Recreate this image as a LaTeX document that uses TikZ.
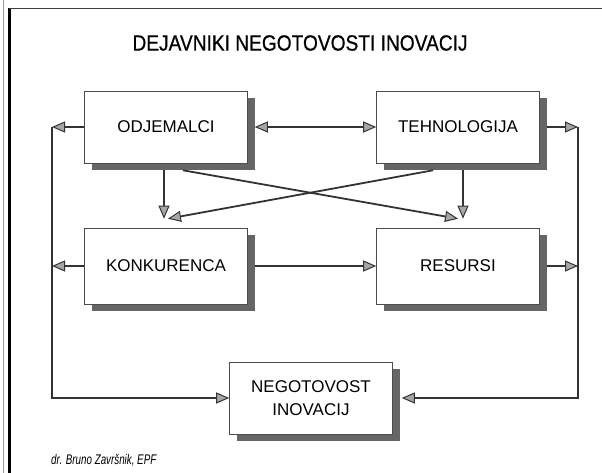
\documentclass[tikz,border=0pt]{standalone}
\usepackage{fontspec}
\setmainfont{Liberation Sans}
\newfontfamily\condfont{Liberation Sans}[FakeStretch=0.87,FakeBold=0.6]
\newfontfamily\notefont{Liberation Sans}[FakeStretch=0.7]
\usepackage{tikz}
\usetikzlibrary{arrows.meta,shadows}
\tikzstyle{block} = [rectangle, draw=black!70, line width=0.6pt, fill=white, minimum width=163pt, minimum height=72pt, font=\fontsize{17}{23}\selectfont, align=center, drop shadow={shadow xshift=7pt, shadow yshift=-7pt, fill=black!60, opacity=1}]
\tikzstyle{line} = [draw, line width=1.8pt, color=black!80, -{Triangle[length=13pt,width=11pt,fill=black!35,line width=1pt]}]
\tikzstyle{both} = [line, {Triangle[length=13pt,width=11pt,fill=black!35,line width=1pt]}-{Triangle[length=13pt,width=11pt,fill=black!35,line width=1pt]}]

\begin{document}
\begin{tikzpicture}[x=1pt, y=-1pt, node distance=292pt]
		\useasboundingbox (0,0) rectangle (602,473);
		% Frame
		\draw[black!40, line width=0.6pt] (3,0) -- (3,473);
		\draw[line width=2.5pt] (9.5,8) -- (9.5,473);
		\draw[black!75, line width=1.5pt] (9,8.5) -- (602,8.5);
		\node (title) at (300,43) {\condfont\fontsize{22}{26}\selectfont DEJAVNIKI NEGOTOVOSTI INOVACIJ};
		% Place nodes
		\node [block] (odj) at (166,127) {ODJEMALCI};
		\node [block, right of=odj] (teh) {TEHNOLOGIJA};
		\node [block, minimum height=76pt, below of=odj, node distance=139pt] (konk) {KONKURENCA};
		\node [block, minimum height=76pt, below of=teh, node distance=139pt] (res) {RESURSI};
		\node [block] (neg) at (311,398) {NEGOTOVOST\\INOVACIJ};
		\coordinate (lt) at (52,127);
		\coordinate (lm) at (52,266);
		\coordinate (lb) at (52,398);
		\coordinate (rt) at (578,127);
		\coordinate (rm) at (578,266);
		\coordinate (rb) at (578,398);
		% Draw edges
		\path [both] ([xshift=7pt]odj.east) -- (teh.west);
		\path [line] ([xshift=7pt]konk.east) -- (res.west);
		\path [line] ([xshift=-2pt,yshift=-7pt]odj.south) -- ([xshift=-2pt,yshift=9pt]konk.north);
		\path [line] ([xshift=5pt,yshift=-7pt]teh.south) -- ([xshift=5pt,yshift=9pt]res.north);
		\path [line] ([xshift=17pt,yshift=-7pt]odj.south) -- ([yshift=9pt]res.north);
		\path [line] ([xshift=-25pt,yshift=-7pt]teh.south) -- ([xshift=2pt,yshift=9pt]konk.north);
		\path [line] (odj.west) -- (lt);
		\path [line] (konk.west) -- (lm);
		\path [line] ([xshift=7pt]teh.east) -- (rt);
		\path [line] ([xshift=7pt]res.east) -- (rm);
		\path [line] (lt) -- (lb) -- (neg.west);
		\path [line] (rt) -- (rb) -- ([xshift=9pt]neg.east);
		
		\node [anchor=west, inner sep=0pt] (author) at (51,460) {\notefont\itshape\fontsize{14}{16}\selectfont dr. Bruno Završnik, EPF};
	\end{tikzpicture}
\end{document}
